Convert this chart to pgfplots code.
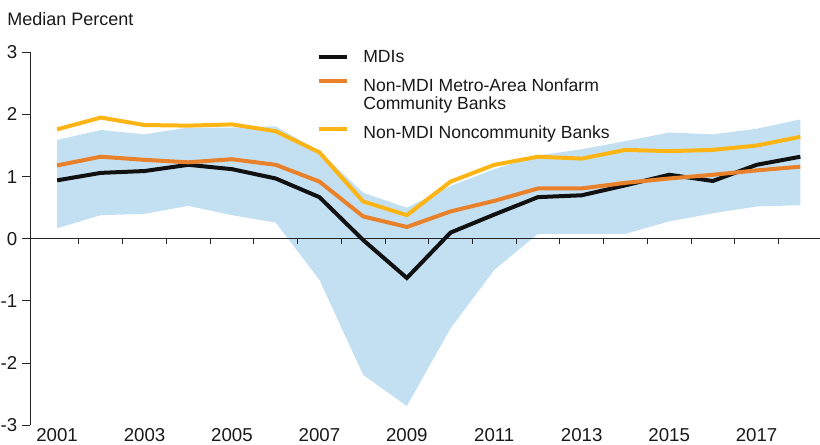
\documentclass[border=0pt]{standalone}
\usepackage{fontspec}
\setmainfont{Liberation Sans}
\usepackage{pgfplots}
\pgfplotsset{compat=1.18}
\usepgfplotslibrary{fillbetween}
\definecolor{bandblue}{HTML}{C3E0F3}
\definecolor{mdiorange}{HTML}{E8812A}
\definecolor{mdiyellow}{HTML}{FDB515}
\definecolor{mdiblack}{HTML}{111111}
\newcommand{\lrow}[2]{\raisebox{0pt}[#1][0pt]{#2}}
\begin{document}
\begin{tikzpicture}
\begin{axis}[
  at={(0,0)}, anchor=south west,
  scale only axis, width=592.5pt, height=279.75pt,
  xmin=2000.38, xmax=2018.45, ymin=-3, ymax=3,
  axis x line=bottom, axis y line=left,
  axis line style={-},
  x axis line style={draw=none},
  y axis line style={line width=0.75pt, black!85},
  xtick={2001,2003,...,2017},
  ytick={-3,-2,-1,0,1,2,3},
  x tick style={draw=none},
  y tick style={black!85, line width=0.75pt},
  tick align=outside,
  major tick length=6pt,
  tick label style={font=\fontsize{14}{16}\selectfont, text=black!90},
  /pgf/number format/assume math mode=true,
  x tick label style={/pgf/number format/1000 sep={}, yshift=7.5pt},
  legend style={at={(0.3625,1.015)}, anchor=north west, draw=none, fill=none,
    font=\fontsize{13.2}{13.5}\selectfont, text=black!90, row sep=0pt, inner sep=0pt,
    /tikz/every odd column/.append style={column sep=9pt}},
  legend cell align=left,
  legend image code/.code={\draw[#1, line width=3pt] (0pt,0pt) -- (21pt,0pt);},
  clip=false,
]
\addplot[name path=up, draw=none, forget plot] coordinates {
(2001,1.59)(2002,1.75)(2003,1.68)(2004,1.79)(2005,1.79)(2006,1.81)(2007,1.41)(2008,0.74)(2009,0.50)
(2010,0.85)(2011,1.12)(2012,1.34)(2013,1.44)(2014,1.57)(2015,1.71)(2016,1.68)(2017,1.77)(2018,1.92)};
\addplot[name path=lo, draw=none, forget plot] coordinates {
(2001,0.17)(2002,0.38)(2003,0.40)(2004,0.53)(2005,0.38)(2006,0.26)(2007,-0.66)(2008,-2.19)(2009,-2.69)
(2010,-1.44)(2011,-0.50)(2012,0.08)(2013,0.08)(2014,0.08)(2015,0.28)(2016,0.41)(2017,0.52)(2018,0.54)};
\addplot[bandblue, forget plot] fill between[of=up and lo];
\draw[black!85, line width=1pt] (axis cs:2000.38,0) -- (axis cs:2018.45,0);
\pgfplotsinvokeforeach{2001.5,2002.5,2003.5,2004.5,2005.5,2006.5,2007.5,2008.5,2009.5,2010.5,2011.5,2012.5,2013.5,2014.5,2015.5,2016.5,2017.5}{
  \draw[black!85, line width=0.75pt] (axis cs:#1,0) -- ++(0pt,-3.75pt);
}
\addplot[mdiblack, line width=3pt] coordinates {
(2001,0.94)(2002,1.06)(2003,1.09)(2004,1.19)(2005,1.12)(2006,0.97)(2007,0.67)(2008,-0.02)(2009,-0.63)
(2010,0.10)(2011,0.39)(2012,0.67)(2013,0.70)(2014,0.86)(2015,1.03)(2016,0.93)(2017,1.19)(2018,1.32)};
\addlegendentry{\lrow{9.5pt}{MDIs}}
\addplot[mdiorange, line width=3pt] coordinates {
(2001,1.18)(2002,1.32)(2003,1.27)(2004,1.23)(2005,1.28)(2006,1.19)(2007,0.92)(2008,0.36)(2009,0.19)
(2010,0.44)(2011,0.61)(2012,0.81)(2013,0.81)(2014,0.90)(2015,0.97)(2016,1.03)(2017,1.10)(2018,1.16)};
\addlegendentry{\lrow{16.1pt}{Non-MDI Metro-Area Nonfarm}}
\addlegendimage{empty legend}
\addlegendentry{\lrow{8.6pt}{Community Banks}}
\addplot[mdiyellow, line width=3pt] coordinates {
(2001,1.76)(2002,1.95)(2003,1.83)(2004,1.82)(2005,1.84)(2006,1.73)(2007,1.39)(2008,0.60)(2009,0.38)
(2010,0.92)(2011,1.19)(2012,1.32)(2013,1.29)(2014,1.43)(2015,1.41)(2016,1.43)(2017,1.50)(2018,1.64)};
\addlegendentry{\lrow{16.1pt}{Non-MDI Noncommunity Banks}}
\end{axis}
\node[anchor=west, font=\fontsize{13.5}{16}\selectfont, text=black!90, inner sep=0pt] at (-17.25pt,304.7pt) {Median Percent};
\pgfresetboundingbox
\path (-22.5pt,-14.78pt) rectangle (592.5pt,318.97pt);
\end{tikzpicture}
\end{document}
